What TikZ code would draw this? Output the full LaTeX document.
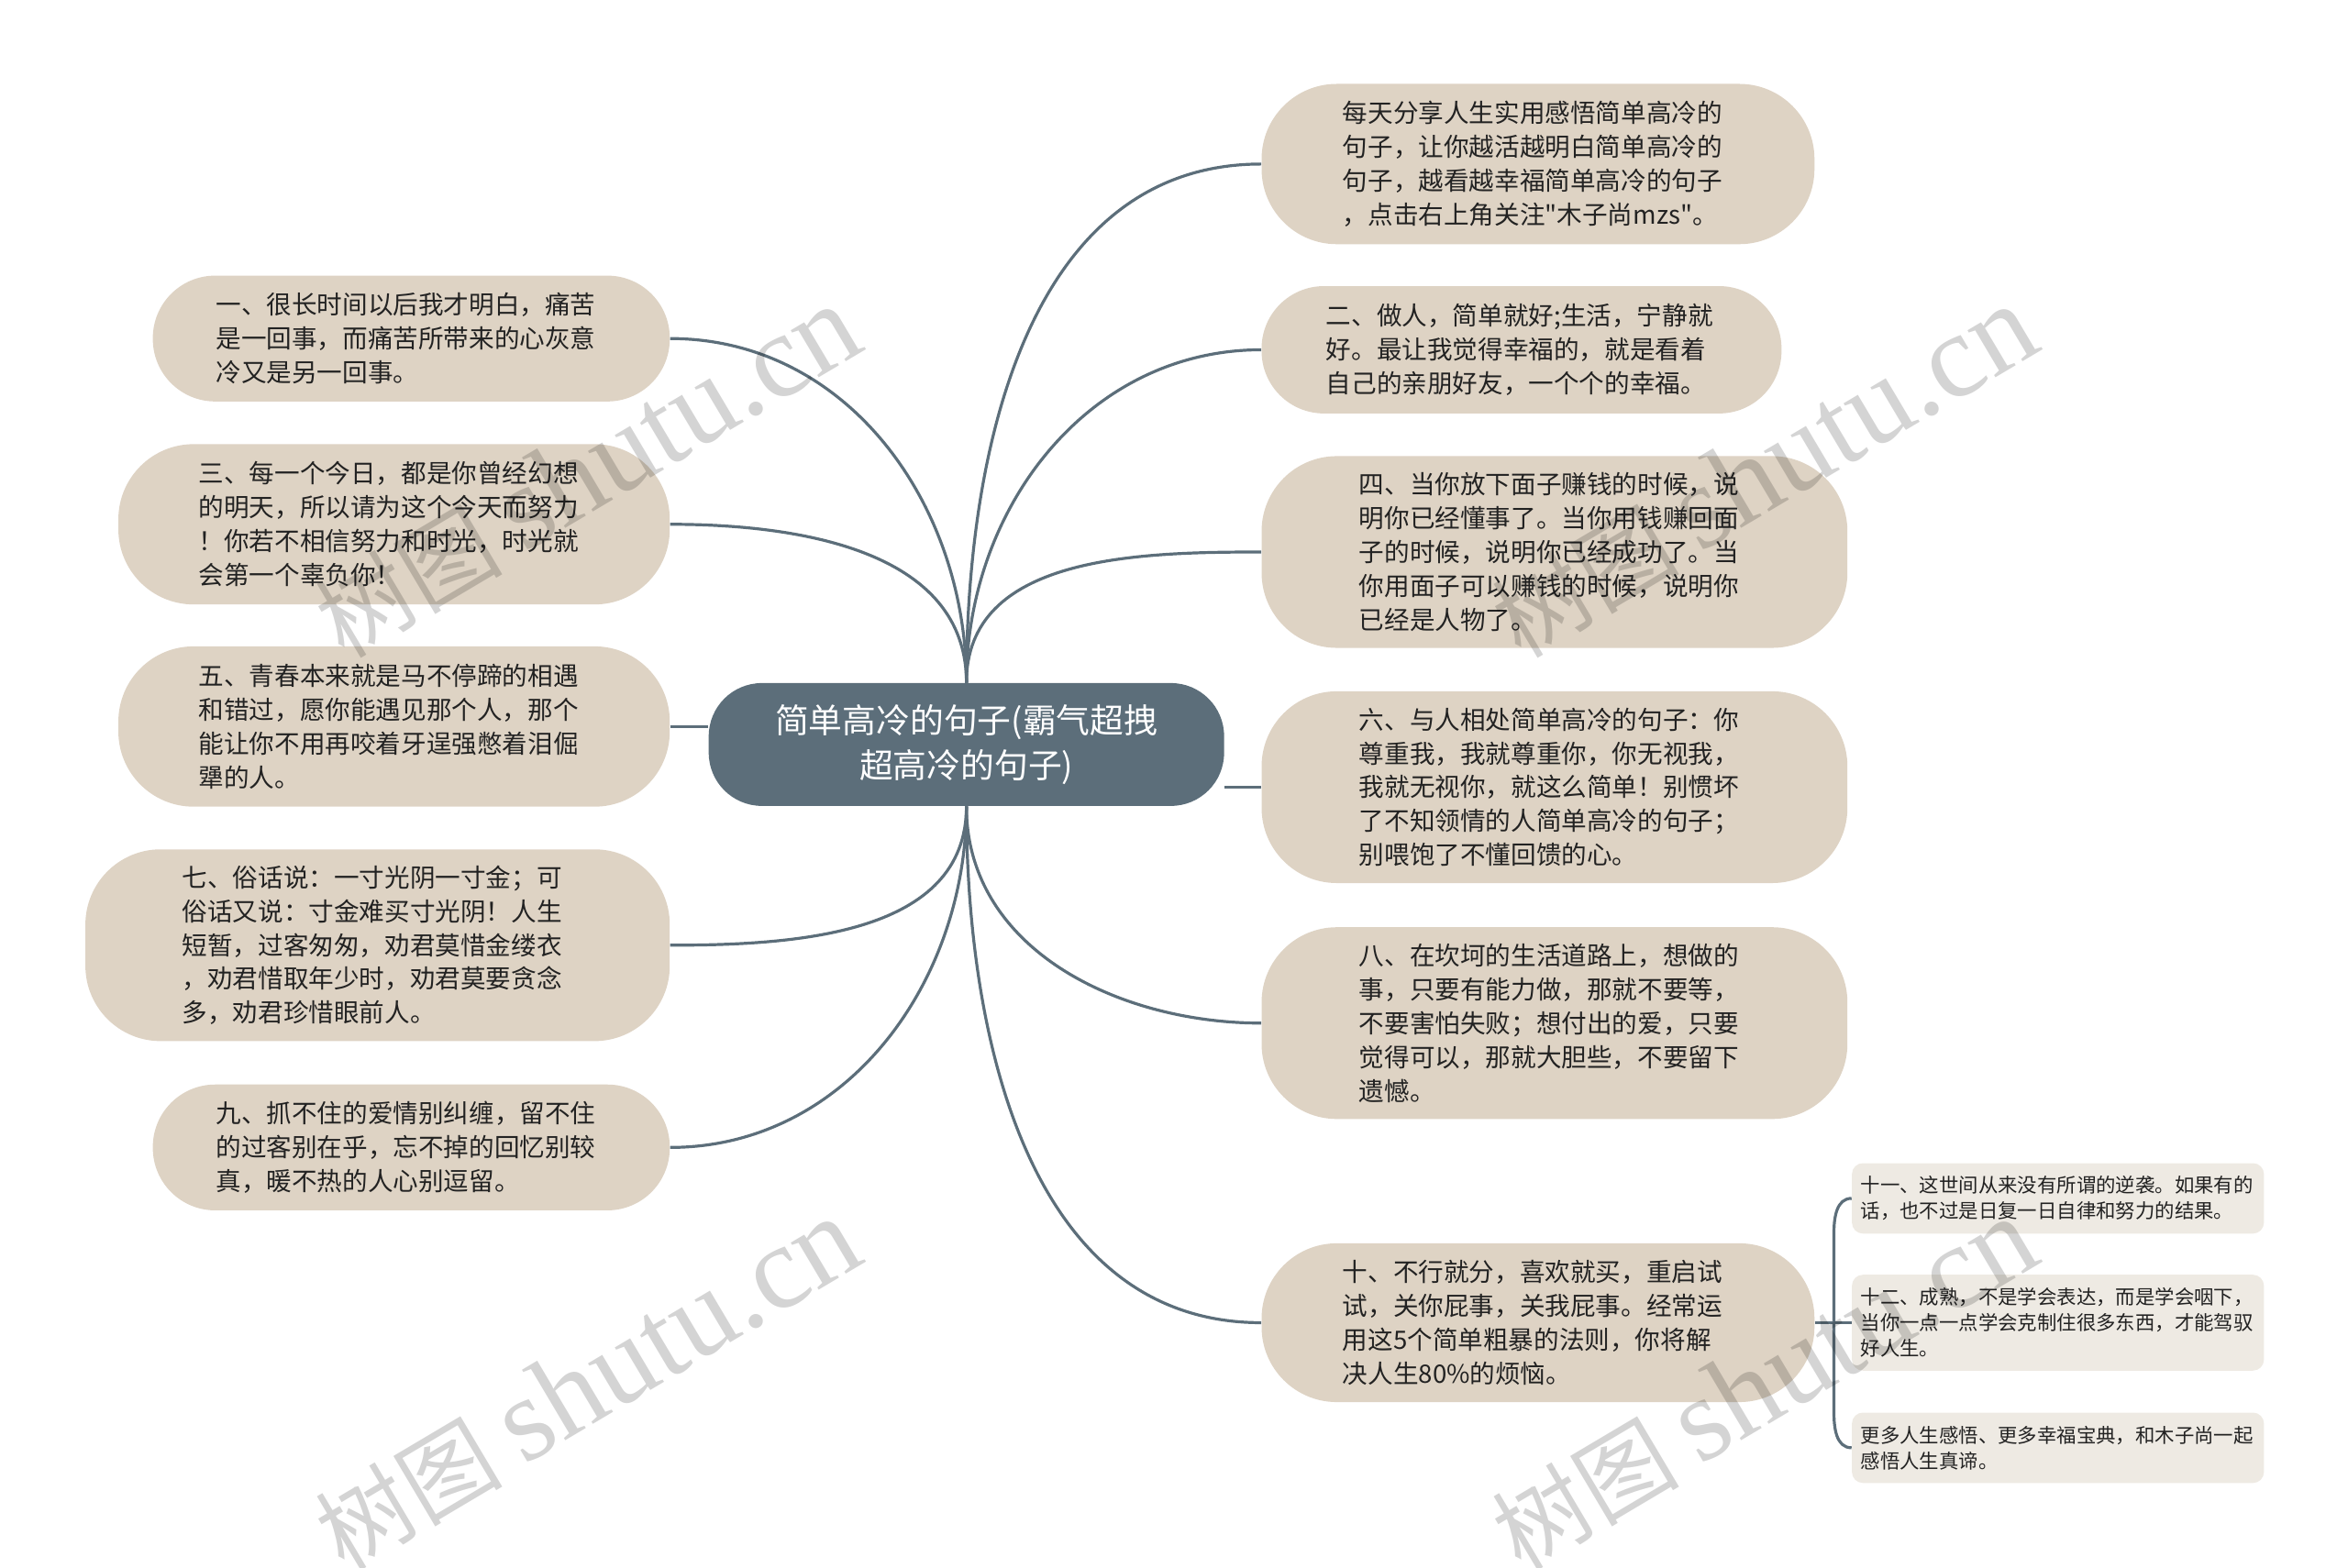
\documentclass[tikz,border=0pt]{standalone}
\usepackage{fontspec}
\setmainfont[Ligatures=TeXOff]{Noto Sans CJK SC}
\newfontfamily\wmfont{Liberation Serif}
\usepackage{xcolor}
\usetikzlibrary{backgrounds}
\definecolor{slateroot}{HTML}{5C6E7A}
\definecolor{tanbox}{HTML}{DED3C4}
\definecolor{paperbox}{HTML}{EEEAE3}
\definecolor{inktext}{HTML}{222222}
\tikzset{
  box size/.style 2 args={minimum width=#1*0.8168pt,minimum height=#2*0.8168pt},
  rootbox/.style={fill=slateroot,text=white,inner sep=0pt,rounded corners=29pt,align=center,font=\fontsize{18.4}{24.6}\selectfont},
  tanlow/.style={fill=tanbox,text=inktext,inner sep=0pt,rounded corners=34pt,text width=213pt,align=left,font=\fontsize{13.8}{18.45}\selectfont},
  tantall/.style={tanlow,rounded corners=41pt},
  leafbox/.style={fill=paperbox,text=inktext,inner sep=0pt,rounded corners=6pt,text width=215pt,align=left,font=\fontsize{10.7}{14}\selectfont},
  branch/.style={draw=slateroot,line width=1.6pt},
  twig/.style={draw=slateroot,line width=1.6pt},
  markwm/.style={text=black,opacity=0.17,inner sep=0pt,rotate=30.7,font=\fontsize{51}{60}\selectfont}
}
\newcommand{\wmtext}{树图 {\wmfont\fontsize{65}{60}\selectfont shutu.cn}}
\begin{document}
\begin{tikzpicture}[line cap=round,line join=round,x=0.8168pt,y=-0.8168pt]
\useasboundingbox (0,0) rectangle (1567.1,1046.2);
% centre
\node[rootbox,box size={344}{82}] (root) at (645,497) {简单高冷的句子(霸气超拽\\超高冷的句子)};
% right side
\node[tantall,box size={369}{107}] (daily) at (1026.5,109.5) {每天分享人生实用感悟简单高冷的\\句子，让你越活越明白简单高冷的\\句子，越看越幸福简单高冷的句子\\，点击右上角关注"木子尚mzs"。};
\node[tanlow,box size={347}{85}] (two) at (1015.5,233.5) {二、做人，简单就好;生活，宁静就\\好。最让我觉得幸福的，就是看着\\自己的亲朋好友，一个个的幸福。};
\node[tantall,box size={391}{128}] (four) at (1037.5,368.5) {四、当你放下面子赚钱的时候，说\\明你已经懂事了。当你用钱赚回面\\子的时候，说明你已经成功了。当\\你用面子可以赚钱的时候，说明你\\已经是人物了。};
\node[tantall,box size={391}{128}] (six) at (1037.5,525.5) {六、与人相处简单高冷的句子：你\\尊重我，我就尊重你，你无视我，\\我就无视你，就这么简单！别惯坏\\了不知领情的人简单高冷的句子；\\别喂饱了不懂回馈的心。};
\node[tantall,box size={391}{128}] (eight) at (1037.5,683) {八、在坎坷的生活道路上，想做的\\事，只要有能力做，那就不要等，\\不要害怕失败；想付出的爱，只要\\觉得可以，那就大胆些，不要留下\\遗憾。};
\node[tantall,box size={369}{106}] (ten) at (1026.5,883) {十、不行就分，喜欢就买，重启试\\试，关你屁事，关我屁事。经常运\\用这5个简单粗暴的法则，你将解\\决人生80\%的烦恼。};
% left side
\node[tanlow,box size={345}{84}] (one) at (274.5,226) {一、很长时间以后我才明白，痛苦\\是一回事，而痛苦所带来的心灰意\\冷又是另一回事。};
\node[tantall,box size={368}{107}] (three) at (263,350) {三、每一个今日，都是你曾经幻想\\的明天，所以请为这个今天而努力\\！你若不相信努力和时光，时光就\\会第一个辜负你！};
\node[tantall,box size={368}{107}] (five) at (263,485) {五、青春本来就是马不停蹄的相遇\\和错过，愿你能遇见那个人，那个\\能让你不用再咬着牙逞强憋着泪倔\\犟的人。};
\node[tantall,box size={390}{128}] (seven) at (252,631) {七、俗话说：一寸光阴一寸金；可\\俗话又说：寸金难买寸光阴！人生\\短暂，过客匆匆，劝君莫惜金缕衣\\，劝君惜取年少时，劝君莫要贪念\\多，劝君珍惜眼前人。};
\node[tanlow,box size={345}{84}] (nine) at (274.5,766) {九、抓不住的爱情别纠缠，留不住\\的过客别在乎，忘不掉的回忆别较\\真，暖不热的人心别逗留。};
% small leaves
\node[leafbox,box size={275}{47}] (leafa) at (1373.5,800) {十一、这世间从来没有所谓的逆袭。如果有的\\话，也不过是日复一日自律和努力的结果。};
\node[leafbox,box size={275}{64}] (leafb) at (1373.5,883) {十二、成熟，不是学会表达，而是学会咽下，\\当你一点一点学会克制住很多东西，才能驾驭\\好人生。};
\node[leafbox,box size={275}{47}] (leafc) at (1373.5,966.5) {更多人生感悟、更多幸福宝典，和木子尚一起\\感悟人生真谛。};
\coordinate (forkt) at (1224,823);
\coordinate (forkb) at (1224,943);
% connectors
\begin{scope}[on background layer]
\foreach \n in {daily,two,four}
  \draw[branch] (root.north) to[out=90,in=180] (\n.west);
\foreach \n in {eight,ten}
  \draw[branch] (root.south) to[out=-90,in=180] (\n.west);
\foreach \n in {one,three}
  \draw[branch] (root.north) to[out=90,in=0] (\n.east);
\foreach \n in {seven,nine}
  \draw[branch] (root.south) to[out=-90,in=0] (\n.east);
\draw[branch] (five.east) -- (five.east -| root.west);
\draw[branch] (six.west) -- (six.west -| root.east);
\draw[twig] (ten.east) -- (leafb.west);
\draw[twig] (leafa.west) to[out=180,in=90] (forkt) -- (forkb) to[out=-90,in=180] (leafc.west);
\end{scope}
% watermark
\node[markwm] (wma) at (392,315) {\wmtext};
\node[markwm] (wmb) at (1177,315) {\wmtext};
\node[markwm] (wmc) at (392,924) {\wmtext};
\node[markwm] (wmd) at (1177,924) {\wmtext};
\end{tikzpicture}
\end{document}
